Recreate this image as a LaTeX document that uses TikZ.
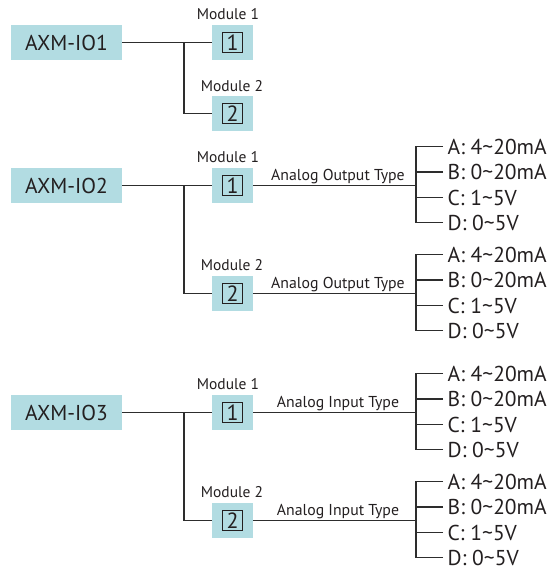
\documentclass[tikz,border=0pt]{standalone}
\usepackage{fontspec}
\setmainfont{PT Sans}
\definecolor{boxblue}{RGB}{178,220,226}
\definecolor{inkgray}{RGB}{35,31,32}
\definecolor{wiregray}{RGB}{45,45,45}
\begin{document}
\begin{tikzpicture}[x=1pt,y=-1pt,
  every node/.style={text=inkgray},
  mainbox/.style={fill=boxblue, minimum width=111pt, minimum height=35pt, inner sep=0pt, font=\fontsize{21.5}{21.5}\selectfont},
  modbox/.style={fill=boxblue, minimum width=41pt, minimum height=35pt, inner sep=0pt},
  numsq/.style={draw=inkgray, line width=1.1pt, minimum size=20pt, inner sep=0pt, font=\fontsize{22}{22}\selectfont},
  modlabel/.style={anchor=base, inner sep=0pt, font=\fontsize{15.5}{15.5}\selectfont},
  typelabel/.style={anchor=base, inner sep=0pt, font=\fontsize{15.8}{15.8}\selectfont},
  optlabel/.style={anchor=west, inner xsep=4.5pt, inner ysep=0pt, font=\fontsize{21.5}{21.5}\selectfont},
  wire/.style={draw=wiregray, line width=1.4pt}
]
\useasboundingbox (0,0) rectangle (552,570);

% ---------------- AXM-IO1 ----------------
\node[mainbox] (io1) at (66.5,42.5) {AXM-IO1};
\node[modbox] (m11) at (232.5,42.5) {};
\node[numsq] (n11) at (m11) {1};
\node[modbox] (m12) at (232.5,113.5) {};
\node[numsq] (n12) at (m12) {2};
\node[modlabel] (l11) at (228,19.5) {Module 1};
\node[modlabel] (l12) at (232,91) {Module 2};
\coordinate (j1) at (184,42.5);
\draw[wire] (io1.east) -- (m11.west);
\draw[wire] (j1) |- (m12.west);

% ---------------- AXM-IO2 ----------------
\node[mainbox] (io2) at (66.5,185.5) {AXM-IO2};
\node[modbox] (m21) at (232.5,185.5) {};
\node[numsq] (n21) at (m21) {1};
\node[modbox] (m22) at (232.5,293.5) {};
\node[numsq] (n22) at (m22) {2};
\node[modlabel] (l21) at (228,162) {Module 1};
\node[modlabel] (l22) at (232,270) {Module 2};
\coordinate (j2) at (184,185.5);
\draw[wire] (io2.east) -- (m21.west);
\draw[wire] (j2) |- (m22.west);

\node[typelabel] (t21) at (338,180.5) {Analog Output Type};
\node[typelabel] (t22) at (338,288.5) {Analog Output Type};

% ---------------- AXM-IO3 ----------------
\node[mainbox] (io3) at (66.5,412.5) {AXM-IO3};
\node[modbox] (m31) at (232.5,412.5) {};
\node[numsq] (n31) at (m31) {1};
\node[modbox] (m32) at (232.5,520.5) {};
\node[numsq] (n32) at (m32) {2};
\node[modlabel] (l31) at (228,389) {Module 1};
\node[modlabel] (l32) at (232,497.5) {Module 2};
\coordinate (j3) at (184,412.5);
\draw[wire] (io3.east) -- (m31.west);
\draw[wire] (j3) |- (m32.west);

\node[typelabel] (t31) at (338,407.5) {Analog Input Type};
\node[typelabel] (t32) at (338,515.5) {Analog Input Type};

% ---------------- option branches ----------------
\foreach \g/\y in {21/185.5, 22/293.5, 31/412.5, 32/520.5}{
  \coordinate (b\g) at (416,\y);
  \draw[wire] (m\g.east) -- (b\g);
  \node[optlabel] (o\g a) at (443,\y-39) {A: 4\textasciitilde 20mA};
  \node[optlabel] (o\g b) at (443,\y-13.5) {B: 0\textasciitilde 20mA};
  \node[optlabel] (o\g c) at (443,\y+12) {C: 1\textasciitilde 5V};
  \node[optlabel] (o\g d) at (443,\y+37) {D: 0\textasciitilde 5V};
  \draw[wire] (o\g a.west) -| (b\g);
  \draw[wire] (o\g d.west) -| (b\g);
  \draw[wire] (o\g b.west) -- (o\g b.west -| b\g);
  \draw[wire] (o\g c.west) -- (o\g c.west -| b\g);
}
\end{tikzpicture}
\end{document}
